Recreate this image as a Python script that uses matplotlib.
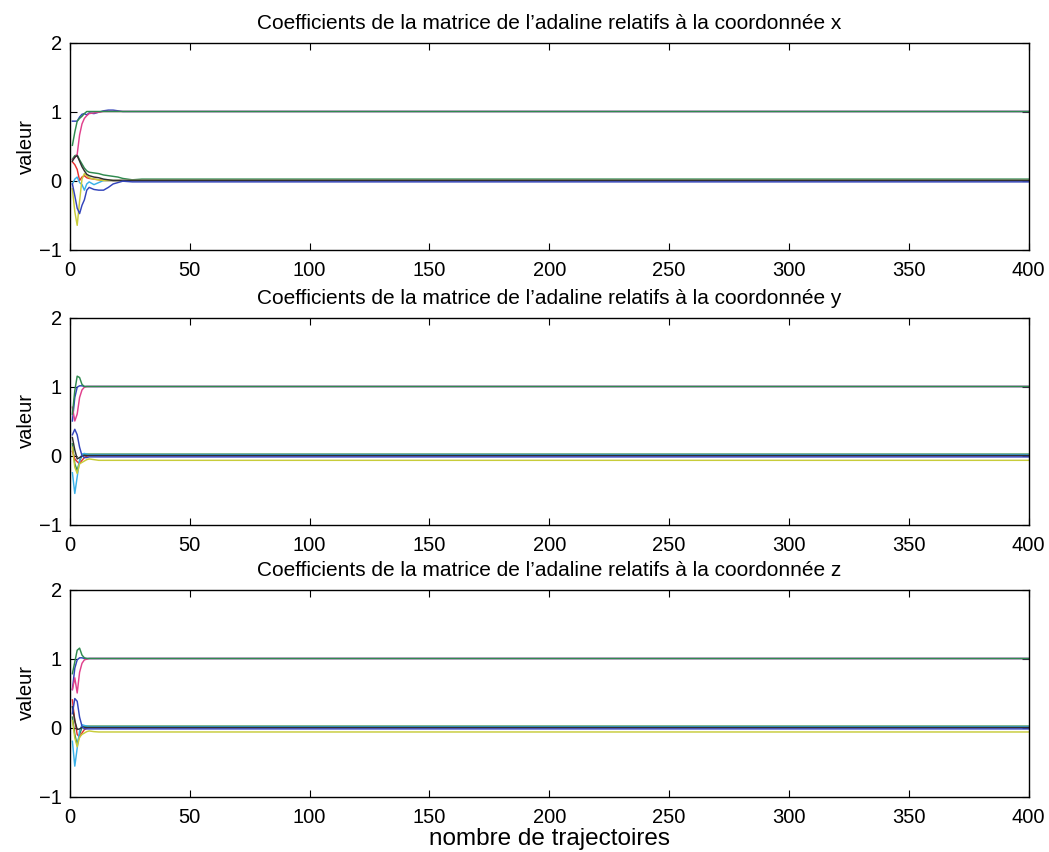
import numpy as np
import matplotlib
matplotlib.use("Agg")
import matplotlib.pyplot as plt

plt.rcParams['font.family'] = ['Liberation Sans', 'DejaVu Sans']

iters = [1, 2, 3, 4, 5, 6, 7, 8, 10, 12, 14, 16, 18, 20, 22, 26, 30, 400]

# coordinate x : 9 coefficients (3x3 matrix, column order)
x_c1 = [0.86, 0.86, 0.86, 0.92, 0.96, 0.97, 0.95, 0.98, 0.97, 0.99, 1.01, 1.02, 1.02, 1.01, 1.00, 1.00, 1.00, 1.00]
x_c2 = [0.31, 0.36, 0.37, 0.30, 0.24, 0.18, 0.14, 0.12, 0.11, 0.10, 0.08, 0.07, 0.06, 0.05, 0.03, 0.01, 0.02, 0.02]
x_c3 = [0.27, 0.23, 0.16, 0.00, 0.05, 0.07, 0.04, 0.03, 0.02, 0.01, 0.00, 0.00, 0.00, 0.00, 0.00, 0.00, 0.00, 0.00]
x_c4 = [-0.05, 0.02, 0.05, -0.03, -0.06, -0.14, -0.05, -0.02, -0.06, -0.03, 0.00, 0.00, 0.00, 0.00, 0.00, 0.00, 0.00, 0.00]
x_c5 = [0.30, 0.33, 0.38, 0.66, 0.82, 0.90, 0.94, 0.97, 0.98, 0.99, 1.00, 1.00, 1.00, 1.00, 1.00, 1.00, 1.00, 1.00]
x_c6 = [-0.12, -0.45, -0.65, -0.30, 0.02, 0.10, 0.07, 0.04, 0.02, 0.01, 0.00, 0.00, 0.00, 0.00, 0.00, 0.00, 0.00, 0.00]
x_c7 = [0.28, 0.34, 0.36, 0.28, 0.20, 0.14, 0.09, 0.07, 0.05, 0.04, 0.02, 0.01, 0.00, 0.00, 0.00, 0.00, 0.00, 0.00]
x_c8 = [-0.05, -0.22, -0.40, -0.48, -0.36, -0.28, -0.14, -0.10, -0.13, -0.14, -0.14, -0.10, -0.05, -0.03, -0.01, -0.02, -0.02, -0.02]
x_c9 = [0.51, 0.70, 0.86, 0.90, 0.93, 0.97, 1.00, 1.00, 1.00, 1.00, 1.00, 1.00, 1.00, 1.00, 1.00, 1.00, 1.00, 1.00]

# coordinate y
y_c1 = [0.50, 0.84, 0.99, 1.01, 1.01, 1.00, 1.00, 1.00, 1.00, 1.00, 1.00, 1.00, 1.00, 1.00, 1.00, 1.00, 1.00, 1.00]
y_c2 = [0.17, -0.12, -0.22, -0.08, 0.00, 0.02, 0.02, 0.02, 0.02, 0.02, 0.02, 0.02, 0.02, 0.02, 0.02, 0.02, 0.02, 0.02]
y_c3 = [0.06, -0.05, -0.09, -0.12, -0.07, -0.03, -0.01, 0.00, 0.00, 0.00, 0.00, 0.00, 0.00, 0.00, 0.00, 0.00, 0.00, 0.00]
y_c4 = [-0.25, -0.55, -0.31, -0.07, 0.02, 0.03, 0.02, 0.01, 0.01, 0.01, 0.01, 0.01, 0.01, 0.01, 0.01, 0.01, 0.01, 0.01]
y_c5 = [0.70, 0.50, 0.60, 0.84, 0.95, 0.99, 1.00, 1.00, 1.00, 1.00, 1.00, 1.00, 1.00, 1.00, 1.00, 1.00, 1.00, 1.00]
y_c6 = [0.12, -0.17, -0.26, -0.12, -0.10, -0.08, -0.06, -0.05, -0.06, -0.07, -0.07, -0.07, -0.07, -0.07, -0.07, -0.07, -0.07, -0.07]
y_c7 = [0.26, 0.08, -0.05, -0.03, -0.01, 0.00, 0.00, 0.00, 0.00, 0.00, 0.00, 0.00, 0.00, 0.00, 0.00, 0.00, 0.00, 0.00]
y_c8 = [0.30, 0.38, 0.30, 0.12, 0.00, -0.03, -0.03, -0.02, -0.02, -0.02, -0.02, -0.02, -0.02, -0.02, -0.02, -0.02, -0.02, -0.02]
y_c9 = [0.60, 0.94, 1.15, 1.13, 1.03, 1.00, 1.00, 1.00, 1.00, 1.00, 1.00, 1.00, 1.00, 1.00, 1.00, 1.00, 1.00, 1.00]

# coordinate z
z_c1 = [0.55, 0.86, 0.98, 1.01, 1.01, 1.00, 1.00, 1.00, 1.00, 1.00, 1.00, 1.00, 1.00, 1.00, 1.00, 1.00, 1.00, 1.00]
z_c2 = [0.15, -0.10, -0.25, -0.10, 0.00, 0.02, 0.02, 0.02, 0.02, 0.02, 0.02, 0.02, 0.02, 0.02, 0.02, 0.02, 0.02, 0.02]
z_c3 = [0.40, 0.10, -0.10, -0.14, -0.08, -0.03, -0.01, 0.00, 0.00, 0.00, 0.00, 0.00, 0.00, 0.00, 0.00, 0.00, 0.00, 0.00]
z_c4 = [-0.20, -0.56, -0.30, -0.05, 0.04, 0.03, 0.02, 0.01, 0.01, 0.01, 0.01, 0.01, 0.01, 0.01, 0.01, 0.01, 0.01, 0.01]
z_c5 = [0.55, 0.72, 0.50, 0.80, 0.93, 0.98, 0.99, 1.00, 1.00, 1.00, 1.00, 1.00, 1.00, 1.00, 1.00, 1.00, 1.00, 1.00]
z_c6 = [0.10, -0.15, -0.28, -0.14, -0.10, -0.08, -0.06, -0.05, -0.06, -0.065, -0.065, -0.065, -0.065, -0.065, -0.065, -0.065, -0.065, -0.065]
z_c7 = [0.30, 0.10, -0.03, -0.02, 0.00, 0.00, 0.00, 0.00, 0.00, 0.00, 0.00, 0.00, 0.00, 0.00, 0.00, 0.00, 0.00, 0.00]
z_c8 = [0.20, 0.42, 0.38, 0.15, 0.02, -0.02, -0.02, -0.02, -0.02, -0.02, -0.02, -0.02, -0.02, -0.02, -0.02, -0.02, -0.02, -0.02]
z_c9 = [0.78, 0.95, 1.12, 1.15, 1.05, 1.01, 1.00, 1.00, 1.00, 1.00, 1.00, 1.00, 1.00, 1.00, 1.00, 1.00, 1.00, 1.00]

coords = ['x', 'y', 'z']
panels = [
    [x_c1, x_c2, x_c3, x_c4, x_c5, x_c6, x_c7, x_c8, x_c9],
    [y_c1, y_c2, y_c3, y_c4, y_c5, y_c6, y_c7, y_c8, y_c9],
    [z_c1, z_c2, z_c3, z_c4, z_c5, z_c6, z_c7, z_c8, z_c9],
]

# matlab-like color cycle b g r c m y k (washed out like the scan)
colors = ['#3344bb', '#2f8a4f', '#e83030', '#3ab0e8', '#e0408c',
          '#c8cc3a', '#303030', '#3344bb', '#2f8a4f']

W, H = 1049, 852
fig = plt.figure(figsize=(W / 100, H / 100), dpi=100)
# panel bottoms in pixels, height 207 px so y=0 and y=1 fall on pixel centres
bottoms_px = [602.5, 327.5, 55.5]
h_px = 207

for i, (c, series) in enumerate(zip(coords, panels)):
    ax = fig.add_axes([70 / W, bottoms_px[i] / H, 958.5 / W, h_px / H])
    for s, col in zip(series, colors):
        ax.plot(iters, s, color=col, lw=1.05)
    ax.set_xlim(0, 400)
    ax.set_ylim(-1, 2)
    ax.set_xticks(np.arange(0, 401, 50))
    ax.set_yticks([-1, 0, 1, 2])
    ax.tick_params(direction='in', length=5, top=True, right=True, labelsize=14.5)
    ax.tick_params(axis='x', pad=8)
    ax.tick_params(axis='y', pad=6)
    ax.set_ylabel('valeur', fontsize=14.5, labelpad=2)
    ax.set_title("Coefficients de la matrice de l\u2019adaline relatifs \u00e0 la coordonn\u00e9e " + c,
                 fontsize=15, pad=10)
    for sp in ax.spines.values():
        sp.set_linewidth(1.0)
    if i == 2:
        ax.set_xlabel('nombre de trajectoires', fontsize=17.5, labelpad=1)

fig.savefig('out.png', dpi=100)
